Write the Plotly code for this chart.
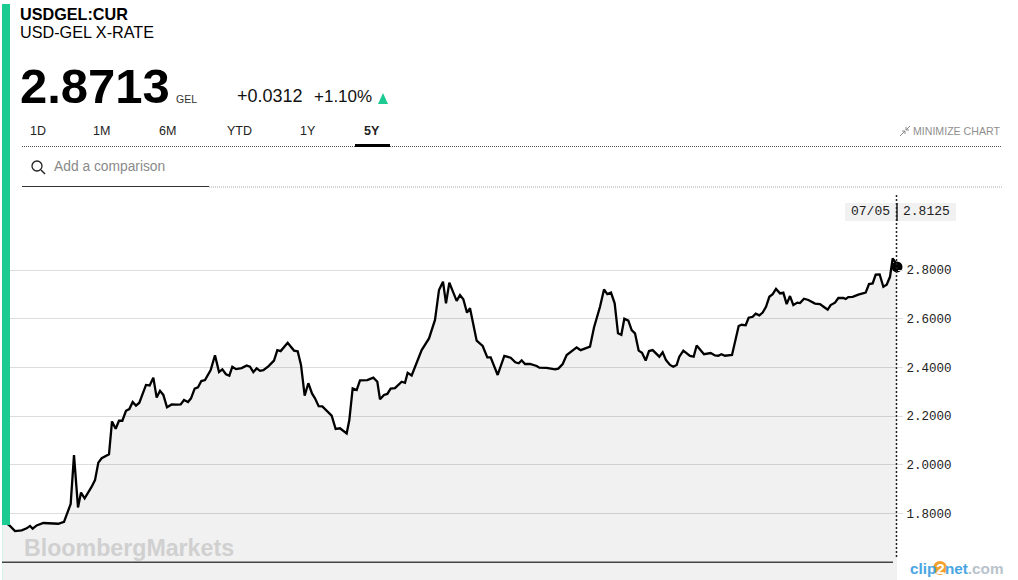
import plotly.graph_objects as go

# Weeks since the start of the 5-year window
weeks = [0.6,2.0,2.7,4.5,6.5,8.0,9.0,9.8,11.0,13.0,16.0,17.5,19.2,21.2,22.2,23.4,24.3,25.4,27.5,28.5,29.5,30.5,32.7,33.6,34.7,35.7,36.7,37.8,38.8,39.8,40.8,41.8,43.8,44.9,46.0,47.0,48.0,49.0,50.1,51.5,53.0,54.2,55.2,56.4,57.3,58.4,59.4,60.4,61.5,63.2,64.5,65.7,66.7,67.8,68.8,69.7,70.8,72.5,74.0,75.0,76.0,77.0,78.0,79.0,80.5,82.2,83.2,84.2,86.3,88.2,89.3,90.3,91.4,92.5,93.6,94.5,95.6,96.7,99.5,100.7,102.0,
         104.0,104.8,105.8,107.0,108.0,110.2,112.0,113.2,114.0,115.2,116.2,117.2,118.5,120.5,121.5,122.3,123.5,126.5,128.7,130.5,131.7,132.9,133.8,134.8,137.0,138.0,139.0,140.1,141.0,143.0,144.8,146.2,147.2,149.3,151.3,153.2,154.6,155.6,156.5,157.5,159.0,161.0,161.8,164.0,166.5,167.5,168.8,170.0,171.0,173.0,174.2,
         177.0,178.2,180.0,181.2,182.2,183.3,184.4,185.4,186.4,187.3,188.5,189.5,190.5,191.6,192.6,193.7,194.7,195.8,197.8,198.8,199.8,201.0,202.0,203.0,203.8,205.0,207.0,208.1,209.0,211.2,213.2,214.5,215.5,216.4,217.5,219.6,220.5,221.6,222.5,223.7,224.6,225.8,226.7,227.8,228.8,229.8,230.8,231.8,232.8,234.0,235.0,236.0,237.0,238.0,239.2,240.0,241.2,242.5,244.5,246.0,247.5,248.3,249.2,250.5,251.5,253.0,253.7,254.5,255.8,257.5,259.7,260.7,261.8,262.7,263.9,265.0,266.0,267.0,267.8,268.5,269.1]

rates = [1.771,1.757,1.753,1.728,1.731,1.739,1.749,1.738,1.751,1.761,1.758,1.758,1.766,1.839,2.040,1.825,1.886,1.862,1.910,1.937,2.009,2.027,2.043,2.178,2.148,2.181,2.181,2.222,2.229,2.258,2.243,2.255,2.328,2.326,2.358,2.276,2.304,2.287,2.236,2.248,2.247,2.248,2.266,2.258,2.273,2.313,2.318,2.344,2.348,2.389,2.450,2.381,2.392,2.372,2.366,2.403,2.393,2.397,2.408,2.403,2.381,2.396,2.386,2.389,2.404,2.428,2.471,2.467,2.501,2.469,2.466,2.410,2.284,2.335,2.293,2.273,2.241,2.240,2.202,2.147,2.150,
         2.129,2.184,2.314,2.307,2.347,2.348,2.358,2.341,2.269,2.287,2.291,2.313,2.315,2.341,2.337,2.378,2.367,2.471,2.519,2.595,2.718,2.752,2.663,2.748,2.673,2.697,2.680,2.625,2.643,2.510,2.488,2.441,2.441,2.369,2.447,2.440,2.421,2.417,2.429,2.414,2.414,2.406,2.399,2.398,2.392,2.395,2.414,2.451,2.462,2.482,2.471,
         2.485,2.564,2.649,2.720,2.701,2.707,2.663,2.540,2.534,2.600,2.592,2.553,2.540,2.469,2.460,2.428,2.467,2.471,2.444,2.462,2.430,2.410,2.403,2.410,2.444,2.469,2.447,2.444,2.490,2.454,2.459,2.449,2.448,2.454,2.448,2.451,2.499,2.570,2.575,2.573,2.604,2.608,2.621,2.614,2.625,2.649,2.690,2.701,2.722,2.704,2.707,2.660,2.693,2.656,2.666,2.664,2.682,2.677,2.662,2.660,2.645,2.637,2.656,2.666,2.685,2.685,2.681,2.689,2.690,2.699,2.707,2.742,2.745,2.781,2.782,2.731,2.740,2.772,2.848,2.834,2.8125]

y_ticks = [1.8, 2.0, 2.2, 2.4, 2.6, 2.8]
tabs = ["1D", "1M", "6M", "YTD", "1Y", "5Y"]
active_tab = "5Y"
last_date = "07/05"
last_rate = 2.8125
baseline_rate = 1.6

W, H = 1018, 580
L, R, T, B = 2, 897, 195, 580
def px(x): return (x - L) / (R - L)
def py(y): return (B - y) / (B - T)

SANS = "Liberation Sans, Arial, sans-serif"
MONO = "Liberation Mono, monospace"
GREEN = "#1ccb91"

fig = go.Figure()
fig.add_trace(go.Scatter(x=weeks, y=rates, mode="lines", fill="tozeroy",
                         fillcolor="rgba(0,0,0,0.055)",
                         line=dict(color="#000000", width=2.3), hoverinfo="skip"))
fig.add_trace(go.Scatter(x=[weeks[-1]], y=[last_rate], mode="markers", cliponaxis=False,
                         marker=dict(color="#000000", size=11), hoverinfo="skip"))

anns = []
def text(x, y, s, size, color="#000000", bold=False, anchor="left", family=SANS):
    anns.append(dict(xref="paper", yref="paper", x=px(x), y=py(y), text=f"<b>{s}</b>" if bold else s,
                     showarrow=False, xanchor=anchor, yanchor="middle", align=anchor,
                     borderpad=0, font=dict(family=family, size=size, color=color)))

text(19, 14, "USDGEL:CUR", 16.2, bold=True)
text(19, 32, "USD-GEL X-RATE", 16.2)
text(19, 86, "2.8713", 49, bold=True)
text(175, 99, "GEL", 10.5, "#333333")
text(236, 96, "+0.0312", 18, "#111111")
text(313, 96, "+1.10%", 17, "#111111")
for lab, cx in zip(tabs, [38, 101, 167, 239, 308, 372]):
    text(cx, 131, lab, 12.5, "#222222", bold=(lab == active_tab), anchor="center")
text(53, 166, "Add a comparison", 13.8, "#8a8a8a")
text(1001, 131, "MINIMIZE CHART", 10.6, "#8f8f8f", anchor="right")
text(850, 211, last_date, 13, "#222222", family=MONO)
text(902, 211, f"{last_rate:.4f}", 13, "#222222", family=MONO)
text(23, 548, "BloombergMarkets", 23.2, "#d0d0d0", bold=True)
text(909, 568, '<span style="color:#4aa6e2">clip</span><span style="color:#ffffff">2</span>'
               '<span style="color:#4aa6e2">net</span><span style="color:#b9c3cc">.com</span>', 15.3, bold=True)

def rect(x0, y0, x1, y1, color, layer="above"):
    return dict(type="rect", xref="paper", yref="paper", x0=px(x0), x1=px(x1), y0=py(y0), y1=py(y1),
                fillcolor=color, line=dict(width=0), layer=layer)
def seg(x0, y0, x1, y1, color, width=1, dash="solid"):
    return dict(type="line", xref="paper", yref="paper", x0=px(x0), x1=px(x1), y0=py(y0), y1=py(y1),
                line=dict(color=color, width=width, dash=dash))

shapes = [
    rect(2, 4, 10, 525, GREEN),
    rect(2, 525, 3, 580, "#d5f3e8"),
    rect(845, 203, 956, 221, "#f1f1f1", layer="below"),
    seg(22, 146.5, 1002, 146.5, "#555555", 1, "1px,1px"),
    rect(355, 144, 390, 147, "#000000"),
    seg(22, 186.5, 209, 186.5, "#333333", 1),
    seg(209, 187, 1002, 187, "#aaaaaa", 1, "1px,1px"),
    dict(type="circle", xref="paper", yref="paper", x0=px(32), x1=px(42), y0=py(161), y1=py(171),
         line=dict(color="#222222", width=1.3)),
    seg(41, 170, 45, 174, "#222222", 1.4),
    dict(type="path", xref="paper", yref="paper",
         path=f"M {px(378)} {py(104)} L {px(388)} {py(104)} L {px(383)} {py(93)} Z",
         fillcolor=GREEN, line=dict(width=0)),
    seg(900, 136, 905, 131, "#888888", 1),
    seg(905, 131, 905, 134, "#888888", 1),
    seg(905, 131, 902, 131, "#888888", 1),
    seg(910, 126, 906, 130, "#888888", 1),
    seg(906, 130, 906, 127, "#888888", 1),
    seg(906, 130, 909, 130, "#888888", 1),
    dict(type="line", xref="x", yref="y", x0=weeks[0], x1=267.9, y0=baseline_rate, y1=baseline_rate,
         line=dict(color="#444444", width=1.5)),
    seg(896.5, 195, 896.5, 557, "#222222", 1.5, "2px,2px"),
    seg(897, 203, 897, 221, "#222222", 1.5),
    dict(type="circle", xref="paper", yref="paper", x0=px(933), x1=px(947), y0=py(561), y1=py(575),
         fillcolor="#f2a12e", line=dict(width=0), layer="below"),
]

fig.update_layout(
    width=W, height=H, autosize=False, showlegend=False,
    margin=dict(l=L, r=W - R, t=T, b=H - B, pad=0),
    paper_bgcolor="#ffffff", plot_bgcolor="rgba(0,0,0,0)",
    xaxis=dict(range=[0.6, 269.1], visible=False, fixedrange=True),
    yaxis=dict(range=[1.5269, 3.108], side="right", tickvals=y_ticks, tickformat=".4f",
               showgrid=True, gridcolor="#dddddd", gridwidth=1, zeroline=False, showline=False,
               ticks="outside", ticklen=5, tickcolor="#dddddd", tickwidth=1, ticklabelstandoff=1,
               tickfont=dict(family=MONO, size=12.5, color="#222222"), fixedrange=True),
    annotations=anns, shapes=shapes,
)
fig.write_html("out.html", config=dict(displayModeBar=False),
               post_script="document.body.style.margin='0';document.documentElement.style.overflow='hidden';")
